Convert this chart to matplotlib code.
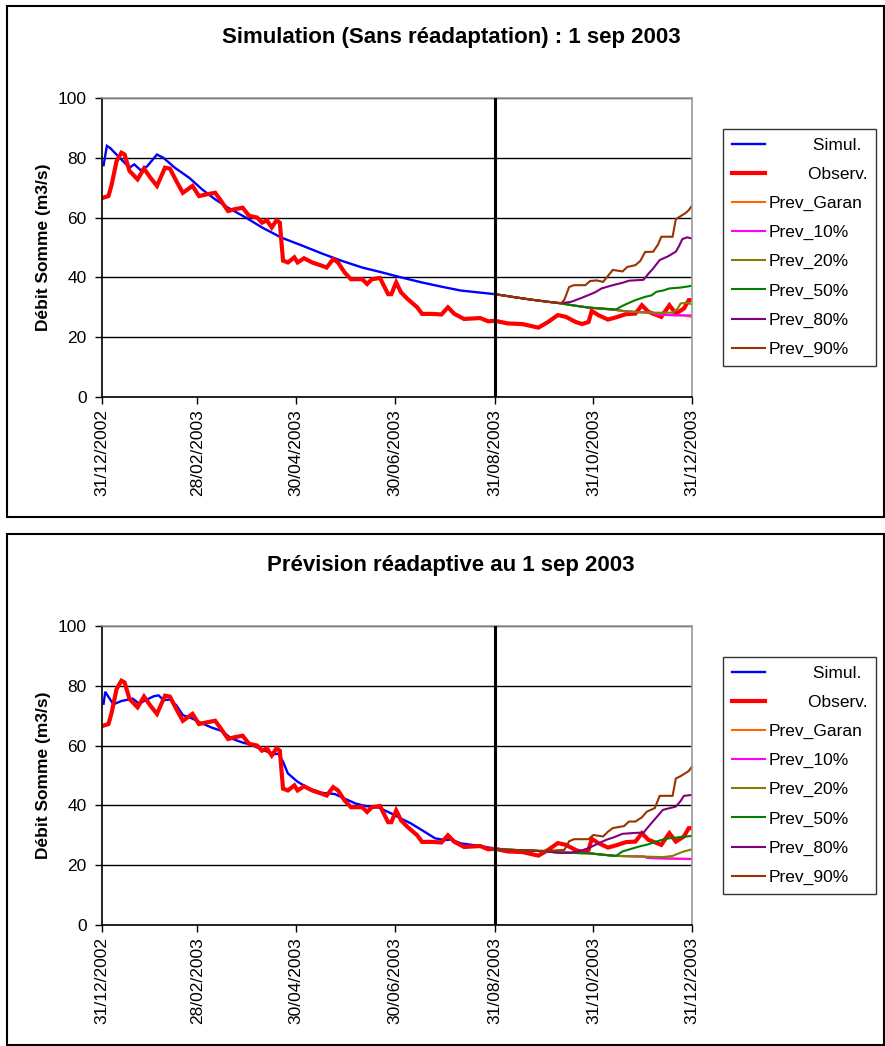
import datetime as dt

import matplotlib

matplotlib.use("Agg")
import matplotlib.dates as mdates
import matplotlib.pyplot as plt
from matplotlib.patches import Rectangle

plt.rcParams["font.family"] = ["Liberation Sans", "DejaVu Sans"]

START = dt.date(2002, 12, 31)
CUT_DAY = 243  # 31/08/2003
TICK_DATES = ["31/12/2002", "28/02/2003", "30/04/2003", "30/06/2003",
              "31/08/2003", "31/10/2003", "31/12/2003"]

# observed flow (same in both panels), day offset from 31/12/2002
obs_days = [1, 4, 6.6, 9.7, 12.7, 14.8, 17.9, 22, 26, 30, 34, 39.5, 42.5, 46.7, 50, 56, 60, 65, 70, 73,
            78.5, 82.6, 87, 91, 96, 99, 102, 105, 108, 110.4, 112, 115.5, 119.7, 121.7, 125, 130, 136, 139,
            143, 146, 150.5, 154.6, 161, 164, 167, 172, 177, 179, 182, 185.4, 189.6, 195, 198, 204, 210,
            214, 218, 224.5, 234, 239, 243, 251, 260, 270, 276, 282.5, 287.7, 293, 297, 301, 303, 307,
            313, 319, 324, 330, 334.5, 338.6, 346, 351, 355, 360.5, 363.6, 365]
obs_vals = [66.7, 67.2, 71.1, 78.9, 81.7, 81.1, 75.6, 72.8, 76.4, 73.3, 70.6, 76.7, 76.4, 72.2, 68.3, 70.6,
            67.2, 67.8, 68.3, 66.1, 62.2, 62.8, 63.3, 60.6, 60.0, 58.3, 59.1, 56.7, 59.1, 58.3, 45.6, 45.0,
            46.7, 45.0, 46.4, 45.0, 43.9, 43.3, 46.1, 45.0, 41.7, 39.4, 39.4, 37.8, 39.4, 39.8, 34.4, 34.4,
            38.3, 35.0, 32.8, 30.0, 27.8, 27.8, 27.6, 30.0, 27.8, 26.1, 26.4, 25.3, 25.5, 24.6, 24.4, 23.2,
            25.1, 27.4, 26.8, 25.1, 24.4, 25.1, 28.8, 27.4, 25.9, 26.8, 27.7, 27.9, 30.7, 28.5, 26.8, 30.7,
            27.9, 29.6, 32.4, 32.4]

# top panel: simulation without readaptation
sim1_days = [1, 3, 5.5, 12.7, 17, 20, 24, 28, 34, 38.5, 45.6, 54, 62, 70, 78.5, 89, 99, 111, 124, 136,
             148, 161, 173, 185, 198, 210, 222, 243]
sim1_vals = [77.5, 84.0, 83.3, 79.4, 76.7, 77.8, 75.8, 77.2, 81.1, 80.0, 76.7, 73.3, 69.4, 66.1, 63.3,
             60.0, 56.7, 53.3, 50.6, 48.0, 45.6, 43.3, 41.7, 40.0, 38.3, 36.9, 35.6, 34.4]

# top panel forecasts
garan1_days = [243, 255, 265, 275, 284, 292, 301, 310, 318, 325, 335, 340, 345, 350, 360, 365]
garan1_vals = [34.4, 33.4, 32.6, 31.9, 31.3, 30.6, 29.9, 29.5, 29.1, 28.6, 28.3, 28.2, 27.6, 27.4, 27.2, 26.8]
p10_1_days = [243, 255, 265, 275, 284, 292, 301, 310, 318, 325, 335, 340, 345, 350, 365]
p10_1_vals = [34.4, 33.4, 32.6, 31.9, 31.3, 30.6, 29.9, 29.5, 29.1, 28.6, 28.3, 28.2, 27.6, 27.4, 27.3]
p20_1_days = [243, 255, 265, 275, 284, 292, 301, 310, 318, 325, 335, 343, 353, 356, 358, 362, 365]
p20_1_vals = [34.4, 33.4, 32.6, 31.9, 31.3, 30.6, 29.9, 29.5, 29.1, 28.6, 28.3, 28.2, 28.2, 29.5, 31.3, 31.5, 31.0]
p50_1_days = [243, 255, 265, 275, 284, 292, 301, 310, 318, 321, 324, 330, 336, 340, 343, 347, 351, 358, 365]
p50_1_vals = [34.4, 33.4, 32.6, 31.9, 31.3, 30.6, 29.9, 29.6, 29.3, 30.2, 31.0, 32.4, 33.5, 34.0, 35.2,
              35.6, 36.3, 36.6, 37.2]
p80_1_days = [243, 255, 265, 275, 284, 290, 296, 301, 305, 309, 316, 322, 326, 335, 338, 341, 345, 350,
              355, 357, 359, 362, 365]
p80_1_vals = [34.4, 33.4, 32.6, 31.9, 31.4, 31.8, 33.0, 34.1, 35.0, 36.3, 37.4, 38.2, 38.9, 39.2, 41.2,
              43.0, 45.8, 47.0, 48.6, 50.5, 52.8, 53.4, 53.0]
p90_1_days = [243, 255, 265, 275, 284, 286, 289, 292, 299, 302, 306, 310, 313, 316, 322, 325, 330, 333,
              336, 341, 344, 346, 353, 355, 358, 361, 363, 365]
p90_1_vals = [34.4, 33.4, 32.6, 31.9, 31.4, 32.5, 36.8, 37.4, 37.4, 38.8, 39.0, 38.5, 40.5, 42.5, 42.0,
              43.5, 44.1, 45.5, 48.5, 48.6, 51.0, 53.6, 53.6, 59.5, 60.5, 61.5, 62.5, 64.0]

# bottom panel: readaptive forecast
sim2_days = [1, 2.5, 4.5, 7.6, 12.7, 19, 23, 27, 32, 35, 38.5, 42.5, 46.7, 50, 56, 62, 68, 74.4, 80.6,
             86.8, 93, 99, 106, 109.4, 112.5, 115.5, 121.7, 128, 136, 144, 150.5, 157, 163, 171, 179,
             185, 191.6, 198, 206, 212, 216, 222, 230.7, 243]
sim2_vals = [74.0, 78.0, 76.3, 73.8, 74.9, 75.7, 74.0, 75.2, 76.5, 76.8, 75.2, 75.4, 73.5, 70.2, 69.0,
             67.4, 66.0, 64.9, 62.4, 61.2, 60.1, 58.7, 57.1, 57.3, 54.6, 50.7, 47.9, 45.7, 44.2, 43.8,
             42.3, 40.6, 39.8, 39.3, 37.3, 35.6, 34.0, 31.7, 29.0, 28.4, 28.6, 27.3, 26.7, 25.6]

garan2_days = [243, 255, 265, 275, 283, 292, 301, 310, 318, 326, 335, 338, 345, 365]
garan2_vals = [25.3, 25.1, 24.9, 24.6, 24.2, 24.1, 24.0, 23.5, 23.1, 23.0, 22.9, 22.4, 22.3, 22.0]
p10_2_days = [243, 255, 265, 275, 283, 292, 301, 310, 318, 326, 335, 338, 345, 365]
p10_2_vals = [25.3, 25.1, 24.9, 24.6, 24.2, 24.1, 24.0, 23.5, 23.1, 23.0, 22.9, 22.4, 22.3, 22.1]
p20_2_days = [243, 255, 265, 275, 283, 292, 301, 310, 318, 326, 335, 347, 353, 357, 360, 365]
p20_2_vals = [25.3, 25.1, 24.9, 24.6, 24.2, 24.1, 24.0, 23.5, 23.1, 23.0, 22.9, 22.7, 23.1, 24.0, 24.6, 25.3]
p50_2_days = [243, 255, 265, 275, 283, 292, 301, 310, 318, 322, 327, 332, 338, 343, 347, 351, 358, 365]
p50_2_vals = [25.3, 25.1, 24.9, 24.6, 24.2, 24.1, 24.0, 23.5, 23.1, 24.6, 25.4, 26.2, 27.0, 27.9, 28.6,
              29.0, 29.4, 29.8]
p80_2_days = [243, 255, 265, 275, 283, 290, 296, 301, 306, 312, 317, 322, 330, 335, 339, 343, 347, 352,
              355, 358, 360, 365]
p80_2_vals = [25.3, 25.1, 24.9, 24.6, 24.2, 24.2, 24.8, 25.7, 27.0, 28.5, 29.4, 30.5, 30.8, 30.9, 33.5,
              36.0, 38.5, 39.2, 39.6, 41.5, 43.2, 43.5]
p90_2_days = [243, 255, 265, 275, 286, 289, 292, 301, 304, 310, 313, 316, 323, 326, 330, 334, 337, 342,
              345, 353, 355, 358, 361, 363, 365]
p90_2_vals = [25.3, 25.1, 24.9, 24.8, 25.1, 28.0, 28.7, 28.7, 30.1, 29.6, 31.2, 32.4, 33.1, 34.6, 34.6,
              36.0, 37.9, 39.1, 43.2, 43.2, 49.0, 49.8, 50.8, 51.5, 53.0]

LABELS = ["Simul.", "Observ.", "Prev_Garan", "Prev_10%", "Prev_20%", "Prev_50%", "Prev_80%", "Prev_90%"]
COLORS = ["#0000FF", "#FF0000", "#FF6600", "#FF00FF", "#808000", "#008000", "#800080", "#993300"]
WIDTHS = [1.7, 3.0, 1.5, 1.5, 1.5, 1.5, 1.5, 1.5]


def to_dates(days):
    return [START + dt.timedelta(days=float(d)) for d in days]


def draw_panel(ax, series):
    for (days, vals), label, color, lw in zip(series, LABELS, COLORS, WIDTHS):
        ax.plot(to_dates(days), vals, color=color, lw=lw, label=label, solid_joinstyle="miter")
    ax.axvline(START + dt.timedelta(days=CUT_DAY), color="black", lw=2.2, zorder=5)

    ax.set_ylim(0, 100)
    ax.set_yticks(range(0, 101, 20))
    ax.set_xlim(START, START + dt.timedelta(days=365))
    ticks = [dt.datetime.strptime(s, "%d/%m/%Y") for s in TICK_DATES]
    ax.set_xticks(ticks)
    ax.xaxis.set_major_formatter(mdates.DateFormatter("%d/%m/%Y"))
    ax.tick_params(axis="x", rotation=90, labelsize=12.5, length=5, width=1, direction="out", pad=4)
    ax.tick_params(axis="y", labelsize=12.5, length=5, width=1, direction="out", pad=6)
    ax.yaxis.grid(True, color="black", lw=1.0)
    ax.set_axisbelow(True)
    for side in ("top", "right"):
        ax.spines[side].set_color("#999999")
        ax.spines[side].set_linewidth(1.2)
    for side in ("left", "bottom"):
        ax.spines[side].set_linewidth(1.2)
    ax.set_ylabel("Débit Somme (m3/s)", fontsize=12.5, fontweight="bold", labelpad=5)

    handles, labels = ax.get_legend_handles_labels()
    labels = ["         " + labels[0], "        " + labels[1]] + labels[2:]
    return handles, labels


def main() -> None:
    fig = plt.figure(figsize=(8.85, 10.46), dpi=100)
    W, H = 885, 1046

    # outer chart frames
    for top, bottom in ((6, 517), (534, 1045)):
        fig.patches.append(Rectangle((7 / W, 1 - bottom / H), 877 / W, (bottom - top) / H,
                                     transform=fig.transFigure, fill=False, ec="black", lw=1.5))

    panels = [
        ("Simulation (Sans réadaptation) : 1 sep 2003", 37, 98, 397, 129,
         [(sim1_days, sim1_vals), (obs_days, obs_vals), (garan1_days, garan1_vals), (p10_1_days, p10_1_vals),
          (p20_1_days, p20_1_vals), (p50_1_days, p50_1_vals), (p80_1_days, p80_1_vals),
          (p90_1_days, p90_1_vals)]),
        ("Prévision réadaptive au 1 sep 2003", 565, 626, 925, 657,
         [(sim2_days, sim2_vals), (obs_days, obs_vals), (garan2_days, garan2_vals), (p10_2_days, p10_2_vals),
          (p20_2_days, p20_2_vals), (p50_2_days, p50_2_vals), (p80_2_days, p80_2_vals),
          (p90_2_days, p90_2_vals)]),
    ]
    for title, title_y, top, bottom, leg_top, series in panels:
        ax = fig.add_axes([102 / W, 1 - bottom / H, 590 / W, (bottom - top) / H])
        handles, labels = draw_panel(ax, series)
        fig.text(451 / W, 1 - title_y / H, title, ha="center", va="center",
                 fontsize=16, fontweight="bold")
        leg = fig.legend(handles, labels, loc="upper left", bbox_to_anchor=(723 / W, 1 - leg_top / H),
                         bbox_transform=fig.transFigure, fontsize=12.5, frameon=True, fancybox=False,
                         edgecolor="black", borderaxespad=0, handlelength=1.9, handletextpad=0.25,
                         labelspacing=0.8, borderpad=0.5)
        leg.get_frame().set_linewidth(1.0)

    fig.savefig("out.png", dpi=100)
    plt.close(fig)


if __name__ == "__main__":
    main()
